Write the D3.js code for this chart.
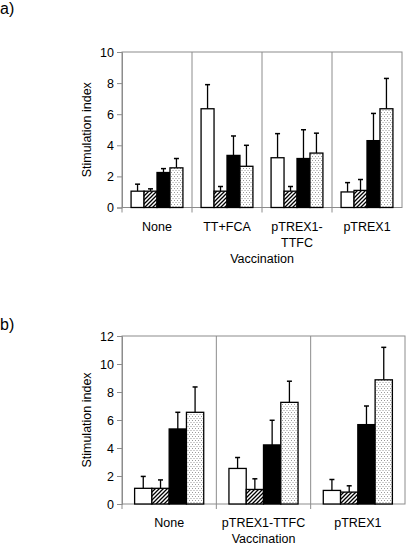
<!DOCTYPE html>
<html><head><meta charset="utf-8">
<script src="https://cdn.jsdelivr.net/npm/d3@7"></script>
<style>body{margin:0;background:#fff}svg{display:block}text{font-family:"Liberation Sans",Arial,sans-serif;fill:#000}</style>
</head><body>
<script>
const seriesKeys = ["s1","s2","s3","s4"];
const seriesFills = ["white","url(#hatch)","black","url(#dots)"];

const catsA = ["None","TT+FCA","pTREX1-\nTTFC","pTREX1"];
const meansA = [[1.05,1.05,2.25,2.55],[6.35,1.05,3.35,2.65],[3.2,1.05,3.15,3.5],[1.0,1.1,4.3,6.35]];
const errTopA = [[1.5,1.2,2.5,3.15],[7.9,1.35,4.6,4.0],[4.75,1.35,5.0,4.78],[1.6,1.8,6.05,8.3]];
const ticksA = [0,2,4,6,8,10];

const catsB = ["None","pTREX1-TTFC","pTREX1"];
const meansB = [[1.12,1.12,5.36,6.55],[2.54,1.04,4.22,7.26],[0.97,0.85,5.67,8.87]];
const errTopB = [[1.97,1.72,6.55,8.36],[3.32,1.8,5.98,8.77],[1.75,1.3,7.0,11.19]];
const ticksB = [0,2,4,6,8,10,12];

const W=406,H=546;
const svg=d3.select("body").append("svg").attr("width",W).attr("height",H);
const defs=svg.append("defs");
const hp=defs.append("pattern").attr("id","hatch").attr("patternUnits","userSpaceOnUse").attr("width",4).attr("height",4);
hp.append("rect").attr("width",4).attr("height",4).attr("fill","white");
hp.append("path").attr("d","M-1,1 l2,-2 M0,4 l4,-4 M3,5 l2,-2").attr("stroke","#000").attr("stroke-width",1.3);
const dp=defs.append("pattern").attr("id","dots").attr("patternUnits","userSpaceOnUse").attr("width",3).attr("height",4);
dp.append("rect").attr("width",3).attr("height",4).attr("fill","white");
dp.append("rect").attr("x",0).attr("y",0).attr("width",1).attr("height",1).attr("fill","#999");
dp.append("rect").attr("x",1.5).attr("y",2).attr("width",1).attr("height",1).attr("fill","#999");

function panel(o){
  const g=svg.append("g");
  const x=d3.scaleBand().domain(o.cats).range([o.x0,o.x1]);
  const y=d3.scaleLinear().domain([0,o.max]).range([o.yb,o.yt]);
  const xs=d3.scaleBand().domain(seriesKeys).range([0,x.bandwidth()]).paddingOuter(o.pad);
  g.append("rect").attr("x",o.x0).attr("y",o.yt).attr("width",o.x1-o.x0).attr("height",o.yb-o.yt)
    .attr("fill","none").attr("stroke","#8c8c8c").attr("stroke-width",1);
  o.cats.slice(1).forEach(c=>{
    g.append("line").attr("x1",x(c)).attr("x2",x(c)).attr("y1",o.yt).attr("y2",o.yb+5).attr("stroke","#8c8c8c");
  });
  g.append("line").attr("x1",o.x0).attr("x2",o.x0).attr("y1",o.yb).attr("y2",o.yb+5).attr("stroke","#8c8c8c");
  const ya=g.append("g").attr("transform",`translate(${o.x0},0)`).call(d3.axisLeft(y).tickValues(o.ticks).tickSize(5).tickPadding(3));
  ya.select(".domain").attr("stroke","#8c8c8c");
  ya.selectAll(".tick line").attr("stroke","#8c8c8c");
  ya.selectAll(".tick text").attr("font-size",12.5).attr("font-family","Liberation Sans, Arial, sans-serif").attr("fill","#000");
  o.cats.forEach((c,i)=>{
    seriesKeys.forEach((s,j)=>{
      const bx=x(c)+xs(s), bw=xs.bandwidth(), v=o.means[i][j], e=o.errs[i][j];
      const cx=bx+bw/2;
      g.append("line").attr("x1",cx).attr("x2",cx).attr("y1",y(v)).attr("y2",y(e)).attr("stroke","#000").attr("stroke-width",1.3);
      g.append("line").attr("x1",cx-2.5).attr("x2",cx+2.5).attr("y1",y(e)).attr("y2",y(e)).attr("stroke","#000").attr("stroke-width",1.5);
      g.append("rect").attr("x",bx).attr("y",y(v)).attr("width",bw).attr("height",y(0)-y(v))
        .attr("fill",seriesFills[j]).attr("stroke","#000").attr("stroke-width",1.3);
    });
    const lines=c.split("\n");
    lines.forEach((t,k)=>{
      g.append("text").attr("x",x(c)+x.bandwidth()/2).attr("y",o.yb+23+k*16).attr("text-anchor","middle").attr("font-size",12.5).text(t);
    });
  });
  g.append("text").attr("x",(o.x0+o.x1)/2).attr("y",o.titleY).attr("text-anchor","middle").attr("font-size",12.5).text("Vaccination");
  g.append("text").attr("transform",`translate(${o.x0-31},${(o.yt+o.yb)/2}) rotate(-90)`).attr("text-anchor","middle").attr("font-size",12.5).text("Stimulation index");
  svg.append("text").attr("x",0).attr("y",o.labY).attr("font-size",16).text(o.lab);
}

panel({cats:catsA,means:meansA,errs:errTopA,ticks:ticksA,max:10,x0:122,x1:402,yt:52,yb:207.5,pad:0.7,titleY:263,lab:"a)",labY:14});
panel({cats:catsB,means:meansB,errs:errTopB,ticks:ticksB,max:12,x0:122,x1:405,yt:336,yb:504,pad:0.73,titleY:543,lab:"b)",labY:330});
</script>
</body></html>
